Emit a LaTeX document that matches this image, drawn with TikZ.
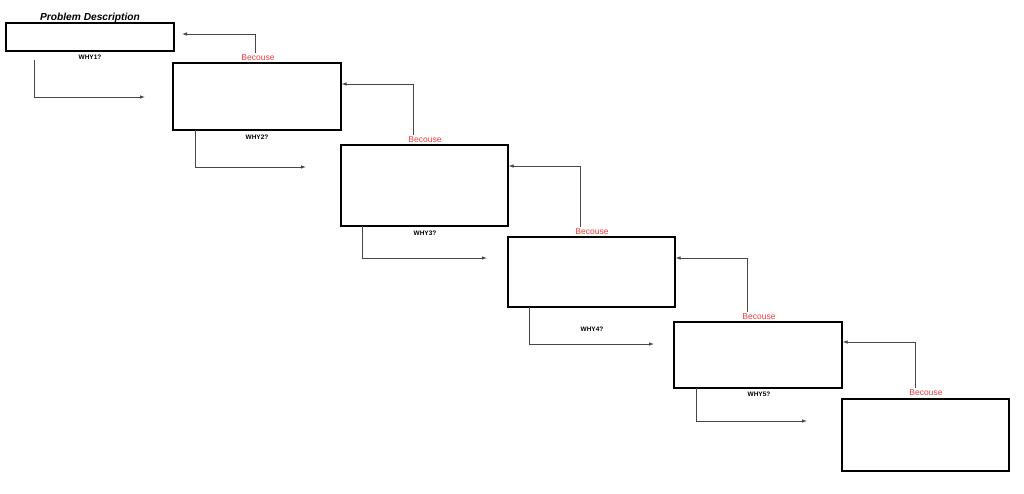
\documentclass[tikz,border=0pt]{standalone}
\usepackage{fontspec}
\setmainfont{Liberation Sans}
\usetikzlibrary{arrows.meta}
\definecolor{becred}{RGB}{238,58,58}
\definecolor{conn}{RGB}{70,70,70}
\tikzset{
  whybox/.style={draw=black, line width=2.4pt, inner sep=0pt, fill=white},
  beclabel/.style={text=becred, font=\fontsize{8.5}{9}\selectfont, inner sep=0pt},
  whylabel/.style={font=\bfseries\fontsize{6.5}{7}\selectfont, inner sep=0pt},
  arr/.style={draw=conn, line width=0.8pt, -{Latex[length=5pt,width=3.5pt]}},
}
\begin{document}
\begin{tikzpicture}[x=1pt,y=-1pt]
\useasboundingbox (0,0) rectangle (1024,494);
% boxes
\node[whybox, minimum width=168pt, minimum height=28pt] (b0) at (90,37) {};
\node[whybox, minimum width=168pt, minimum height=67pt] (b1) at (257,96.5) {};
\node[whybox, minimum width=167pt, minimum height=81pt] (b2) at (424.5,185.5) {};
\node[whybox, minimum width=167pt, minimum height=70pt] (b3) at (591.5,272) {};
\node[whybox, minimum width=168pt, minimum height=66pt] (b4) at (758,355) {};
\node[whybox, minimum width=167pt, minimum height=72pt] (b5) at (925.5,435) {};
% title
\node[font=\bfseries\itshape\fontsize{10.2}{11}\selectfont, inner sep=0pt] (title) at (90,17.5) {Problem Description};
% why labels
\node[whylabel] (w1) at (90,57) {WHY1?};
\node[whylabel] (w2) at (257,137) {WHY2?};
\node[whylabel] (w3) at (425,233) {WHY3?};
\node[whylabel] (w4) at (592,329) {WHY4?};
\node[whylabel] (w5) at (759,394) {WHY5?};
% becouse labels
\node[beclabel] (c1) at (258,58) {Becouse};
\node[beclabel] (c2) at (425,140) {Becouse};
\node[beclabel] (c3) at (592,232) {Becouse};
\node[beclabel] (c4) at (759,317) {Becouse};
\node[beclabel] (c5) at (926,393) {Becouse};
% coordinates for connector ends
\coordinate (d1s) at (34,60);   \coordinate (d1e) at (145,97);
\coordinate (d2s) at (195,130); \coordinate (d2e) at (306,167);
\coordinate (d3s) at (362,226); \coordinate (d3e) at (487,258);
\coordinate (d4s) at (529,307); \coordinate (d4e) at (654,344);
\coordinate (d5s) at (696,388); \coordinate (d5e) at (807,421);
\coordinate (u1s) at (255,53);  \coordinate (u1e) at (182,34);
\coordinate (u2s) at (413,135); \coordinate (u2e) at (341.5,84);
\coordinate (u3s) at (580,227); \coordinate (u3e) at (508.5,166);
\coordinate (u4s) at (747,312); \coordinate (u4e) at (675.5,258);
\coordinate (u5s) at (915,388); \coordinate (u5e) at (842.5,342);
% down connectors
\draw[arr] (d1s) |- (d1e);
\draw[arr] (d2s) |- (d2e);
\draw[arr] (d3s) |- (d3e);
\draw[arr] (d4s) |- (d4e);
\draw[arr] (d5s) |- (d5e);
% up connectors
\draw[arr] (u1s) |- (u1e);
\draw[arr] (u2s) |- (u2e);
\draw[arr] (u3s) |- (u3e);
\draw[arr] (u4s) |- (u4e);
\draw[arr] (u5s) |- (u5e);
\end{tikzpicture}
\end{document}
